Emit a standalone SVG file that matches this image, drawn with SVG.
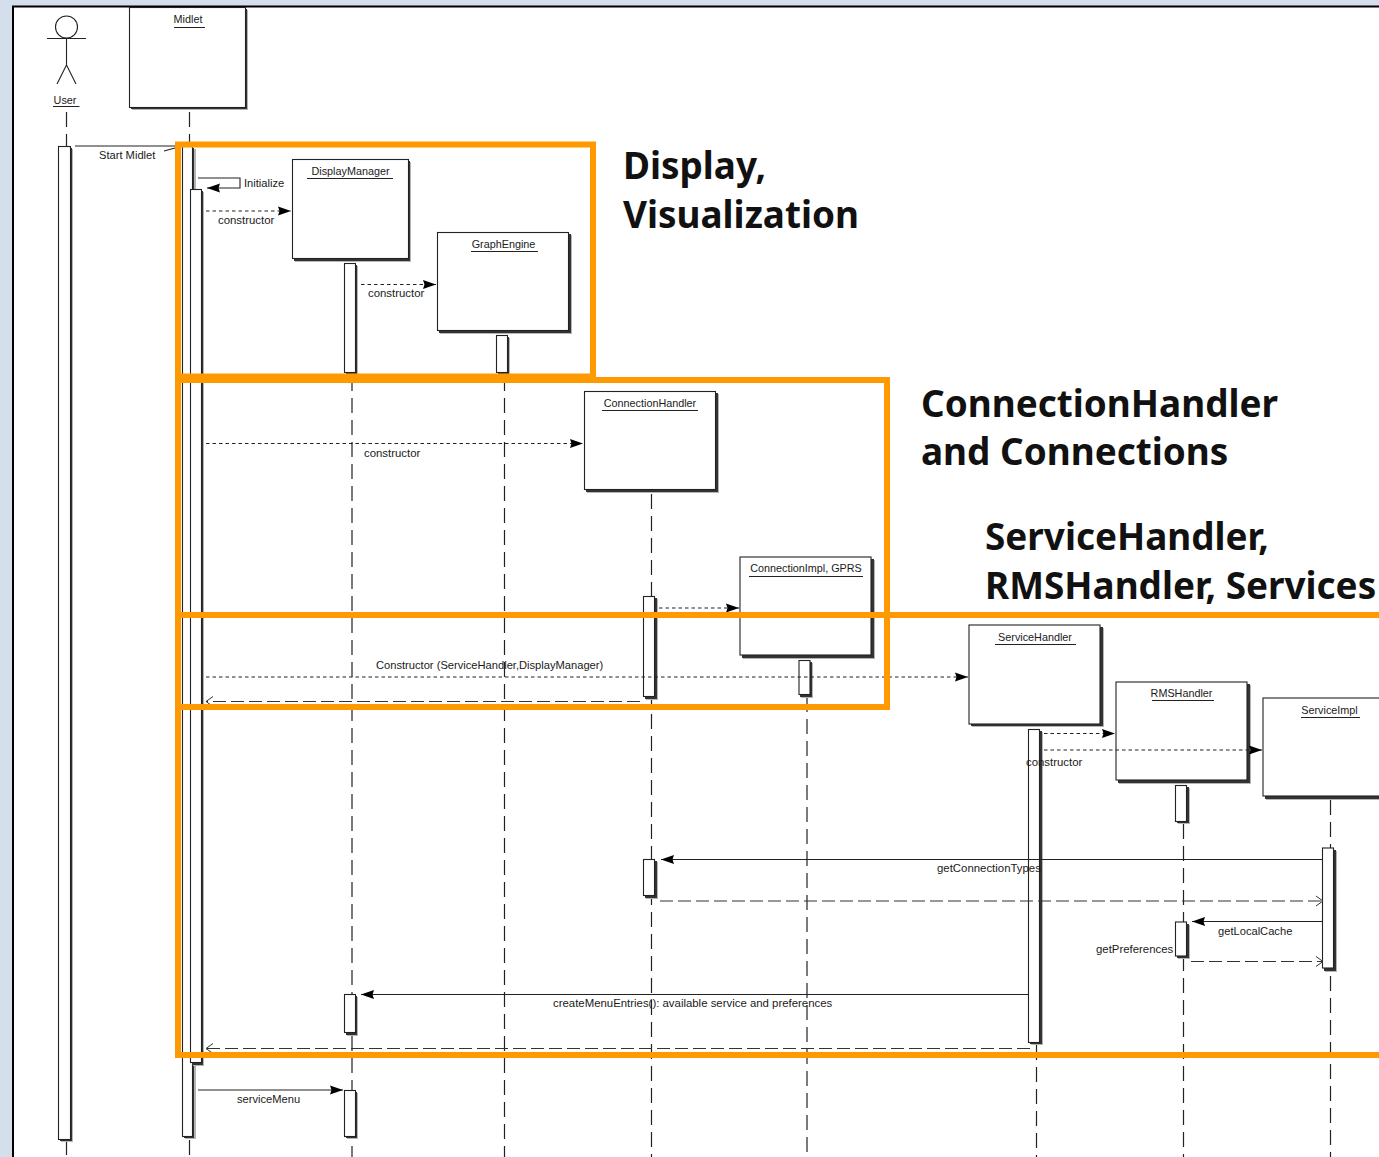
<svg xmlns="http://www.w3.org/2000/svg" width="1379" height="1157" viewBox="0 0 1379 1157">
<style>
.t{font-family:"Liberation Sans",Arial,sans-serif;font-size:11.400px;fill:#1a1a1a}
.n{font-size:10.800px}
.c{font-size:11.150px}
.m{text-anchor:middle}
.h{font-family:"Noto Sans","Open Sans",sans-serif;font-weight:700;font-size:36.900px;fill:#111}
.box{fill:#fff;stroke:#222;stroke-width:1.100}
.sd{fill:#333}
.sg{fill:#b5b5b5}
.u{stroke:#222;stroke-width:1;fill:none}
.ll{stroke:#222;stroke-width:1.200;stroke-dasharray:15 7;fill:none}
.msg{stroke:#222;stroke-width:1.100;fill:none}
.dot{stroke:#222;stroke-width:1.100;stroke-dasharray:3.500 3;fill:none}
.ret{stroke:#333;stroke-width:1.200;stroke-dasharray:13 5;fill:none}
.or{fill:none;stroke:#ff9900;stroke-width:6}
</style>
<defs>
<marker id="fa" markerWidth="14" markerHeight="10" refX="13" refY="5" orient="auto" markerUnits="userSpaceOnUse"><path d="M0 0.500L13 5L0 9.500L1.500 5z" fill="#000"/></marker>
<marker id="oa" markerWidth="9" markerHeight="12" refX="8" refY="6" orient="auto" markerUnits="userSpaceOnUse"><path d="M1 1L8 6L1 11" fill="none" stroke="#333"/></marker>
</defs>
<rect width="1379" height="1157" fill="#fff"/>
<path d="M0 0H1379V6H13V1157H0z" fill="#d5dfec"/>
<path d="M13 1157V6.500H1379" fill="none" stroke="#000" stroke-width="2"/>

<g id="lifelines">
<path class="ll" d="M66.500 112V146M66.500 1140V1157"/>
<path class="ll" d="M189.500 112V146M189.500 1140V1157"/>
<path class="ll" d="M352 376V1157"/>
<path class="ll" d="M504.500 376V1157"/>
<path class="ll" d="M651.500 494V1157"/>
<path class="ll" d="M807 697V1157"/>
<path class="ll" d="M1036.500 1045V1157"/>
<path class="ll" d="M1183.500 824V1157"/>
<path class="ll" d="M1330.500 800V1157"/>
</g>

<g id="user">
<circle cx="66.500" cy="27" r="11" fill="#fff" stroke="#222" stroke-width="1.100"/>
<path class="msg" d="M47 38.500H86M66.500 38V65M66.500 65L57 84M66.500 65L76 84"/>
<text class="t n m" x="65" y="103.500">User</text>
<path class="u" d="M53 106.500H79.500"/>
</g>
<g id="midlet">
<rect class="sg" x="132" y="10" width="116" height="100"/><rect class="sd" x="131" y="9" width="116" height="100"/>
<rect class="box" x="129.500" y="7.500" width="116" height="100"/>
<text class="t n m" x="188" y="23">Midlet</text><path class="u" d="M174 27.500H205"/>
</g>
<g id="activations-main">
<rect class="sg" x="61" y="149" width="12" height="993"/><rect class="sd" x="60" y="148" width="12" height="993"/><rect class="box" x="58.500" y="146.500" width="12" height="993"/>
<rect class="sg" x="185" y="149" width="11" height="990"/><rect class="sd" x="184" y="148" width="10" height="990"/><rect class="box" x="182.500" y="146.500" width="10" height="990"/>
<rect class="sg" x="193" y="192" width="11" height="874"/><rect class="sd" x="192" y="191" width="11" height="874"/><rect class="box" x="190.500" y="189.500" width="11" height="873"/>
</g>
<g id="displaymanager">
<rect class="sg" x="295" y="162" width="116" height="100"/><rect class="sd" x="294" y="161" width="116" height="100"/><rect class="box" x="292.500" y="159.500" width="116" height="99"/>
<text class="t n m" x="350.500" y="175">DisplayManager</text><path class="u" d="M307 178.500H393"/>
<rect class="sg" x="347" y="266" width="11" height="109"/><rect class="sd" x="346" y="265" width="11" height="109"/><rect class="box" x="344.500" y="263.500" width="11" height="109"/>
</g>
<g id="graphengine">
<rect class="sg" x="440" y="235" width="132" height="99"/><rect class="sd" x="439" y="234" width="132" height="99"/><rect class="box" x="437.500" y="232.500" width="131" height="98"/>
<text class="t n m" x="503.500" y="248">GraphEngine</text><path class="u" d="M471 251.500H538"/>
<rect class="sg" x="499" y="338" width="11" height="37"/><rect class="sd" x="498" y="337" width="11" height="37"/><rect class="box" x="496.500" y="335.500" width="11" height="37"/>
</g>
<g id="connectionhandler">
<rect class="sg" x="587" y="394" width="132" height="99"/><rect class="sd" x="586" y="393" width="132" height="99"/><rect class="box" x="584.500" y="391.500" width="131" height="98"/>
<text class="t n m" x="650" y="407">ConnectionHandler</text><path class="u" d="M602 410.500H698"/>
<rect class="sg" x="646" y="599" width="12" height="101"/><rect class="sd" x="645" y="598" width="12" height="101"/><rect class="box" x="643.500" y="596.500" width="11" height="100"/>
<rect class="sg" x="646" y="862" width="12" height="37"/><rect class="sd" x="645" y="861" width="12" height="37"/><rect class="box" x="643.500" y="859.500" width="11" height="36"/>
</g>
<g id="connectionimpl">
<rect class="sg" x="743" y="560" width="132" height="99"/><rect class="sd" x="742" y="559" width="132" height="99"/><rect class="box" x="740" y="557" width="131" height="98"/>
<text class="t n m" x="806" y="572">ConnectionImpl, GPRS</text><path class="u" d="M749 576.500H863"/>
<rect class="sg" x="801" y="663" width="12" height="35"/><rect class="sd" x="800" y="662" width="12" height="35"/><rect class="box" x="799" y="660.500" width="11" height="34"/>
</g>
<g id="servicehandler">
<rect class="sg" x="972" y="628" width="132" height="99"/><rect class="sd" x="971" y="627" width="132" height="99"/><rect class="box" x="969" y="625" width="131" height="99"/>
<text class="t n m" x="1035" y="641">ServiceHandler</text><path class="u" d="M995 644.500H1076"/>
<rect class="sg" x="1031" y="732" width="12" height="313"/><rect class="sd" x="1030" y="731" width="12" height="313"/><rect class="box" x="1028.500" y="729.500" width="11" height="313"/>
</g>
<g id="rmshandler">
<rect class="sg" x="1119" y="685" width="132" height="99"/><rect class="sd" x="1118" y="684" width="132" height="99"/><rect class="box" x="1116" y="682" width="131" height="98"/>
<text class="t n m" x="1181.500" y="697">RMSHandler</text><path class="u" d="M1152 700.500H1214"/>
<rect class="sg" x="1178" y="788" width="12" height="36"/><rect class="sd" x="1177" y="787" width="12" height="36"/><rect class="box" x="1175.500" y="785.500" width="11" height="36"/>
<rect class="sg" x="1178" y="925" width="12" height="34"/><rect class="sd" x="1177" y="924" width="12" height="34"/><rect class="box" x="1175.500" y="922" width="11" height="34"/>
</g>
<g id="serviceimpl">
<rect class="sg" x="1266" y="701" width="120" height="99"/><rect class="sd" x="1265" y="700" width="120" height="99"/><rect class="box" x="1263" y="698" width="130" height="98"/>
<text class="t n m" x="1329.500" y="714">ServiceImpl</text><path class="u" d="M1301 717.500H1360"/>
<rect class="sg" x="1325" y="851" width="12" height="121"/><rect class="sd" x="1324" y="850" width="12" height="121"/><rect class="box" x="1322.500" y="848" width="11" height="120"/>
</g>
<g id="displaymenu">
<rect class="sg" x="347" y="997" width="11" height="39"/><rect class="sd" x="346" y="996" width="11" height="39"/><rect class="box" x="344.500" y="994.500" width="11" height="38"/>
<rect class="sg" x="347" y="1093" width="11" height="46"/><rect class="sd" x="346" y="1092" width="11" height="46"/><rect class="box" x="344.500" y="1090.500" width="11" height="46"/>
</g>

<g id="connectors">
<path class="msg" d="M75 146H175"/><path class="msg" d="M164 151L175 148"/>
<path class="msg" d="M198 178H240V188H207" marker-end="url(#fa)"/>
<path class="dot" d="M206 211H291" marker-end="url(#fa)"/>
<path class="dot" d="M361 284.500H436" marker-end="url(#fa)"/>
<path class="dot" d="M206 443.500H583" marker-end="url(#fa)"/>
<path class="dot" d="M659 608H739" marker-end="url(#fa)"/>
<path class="dot" d="M206 677H968" marker-end="url(#fa)"/>
<path class="ret" d="M640 701.500H206" marker-end="url(#oa)"/>
<path class="dot" d="M1044 733.500H1115" marker-end="url(#fa)"/>
<path class="dot" d="M1044 750H1262" marker-end="url(#fa)"/>
<path class="msg" d="M1322 859.500H661" marker-end="url(#fa)"/>
<path class="ret" d="M660 901H1323" marker-end="url(#oa)"/>
<path class="msg" d="M1322 921.500H1192" marker-end="url(#fa)"/>
<path class="ret" d="M1191 961.500H1323" marker-end="url(#oa)"/>
<path class="msg" d="M1028 994.500H361" marker-end="url(#fa)"/>
<path class="ret" d="M1030 1048.500H206" marker-end="url(#oa)"/>
<path class="msg" d="M198 1090H343" marker-end="url(#fa)"/>
</g>
<g id="labels">
<text class="t c" x="99" y="159">Start Midlet</text>
<text class="t c" x="244" y="187">Initialize</text>
<text class="t" x="218" y="224">constructor</text>
<text class="t" x="368" y="297">constructor</text>
<text class="t" x="364" y="456.500">constructor</text>
<text class="t c" x="376" y="669">Constructor (ServiceHandler,DisplayManager)</text>
<text class="t" x="1026" y="766">constructor</text>
<text class="t" x="937" y="872">getConnectionTypes</text>
<text class="t c" x="1218" y="934.500">getLocalCache</text>
<text class="t" x="1096" y="953">getPreferences</text>
<text class="t" x="553" y="1007">createMenuEntries(): available service and preferences</text>
<text class="t c" x="237" y="1103">serviceMenu</text>
</g>
<g id="regions">
<rect class="or" x="178" y="144.500" width="415" height="232"/>
<rect class="or" x="178" y="380" width="709" height="327"/>
<rect class="or" x="178" y="615" width="1210" height="440"/>
</g>
<g id="captions">
<text class="h" x="623" y="179">Display,</text>
<text class="h" x="623" y="228">Visualization</text>
<text class="h" x="921" y="417">ConnectionHandler</text>
<text class="h" x="921" y="465">and Connections</text>
<text class="h" x="985" y="550">ServiceHandler,</text>
<text class="h" x="985" y="599">RMSHandler, Services</text>
</g>
</svg>
